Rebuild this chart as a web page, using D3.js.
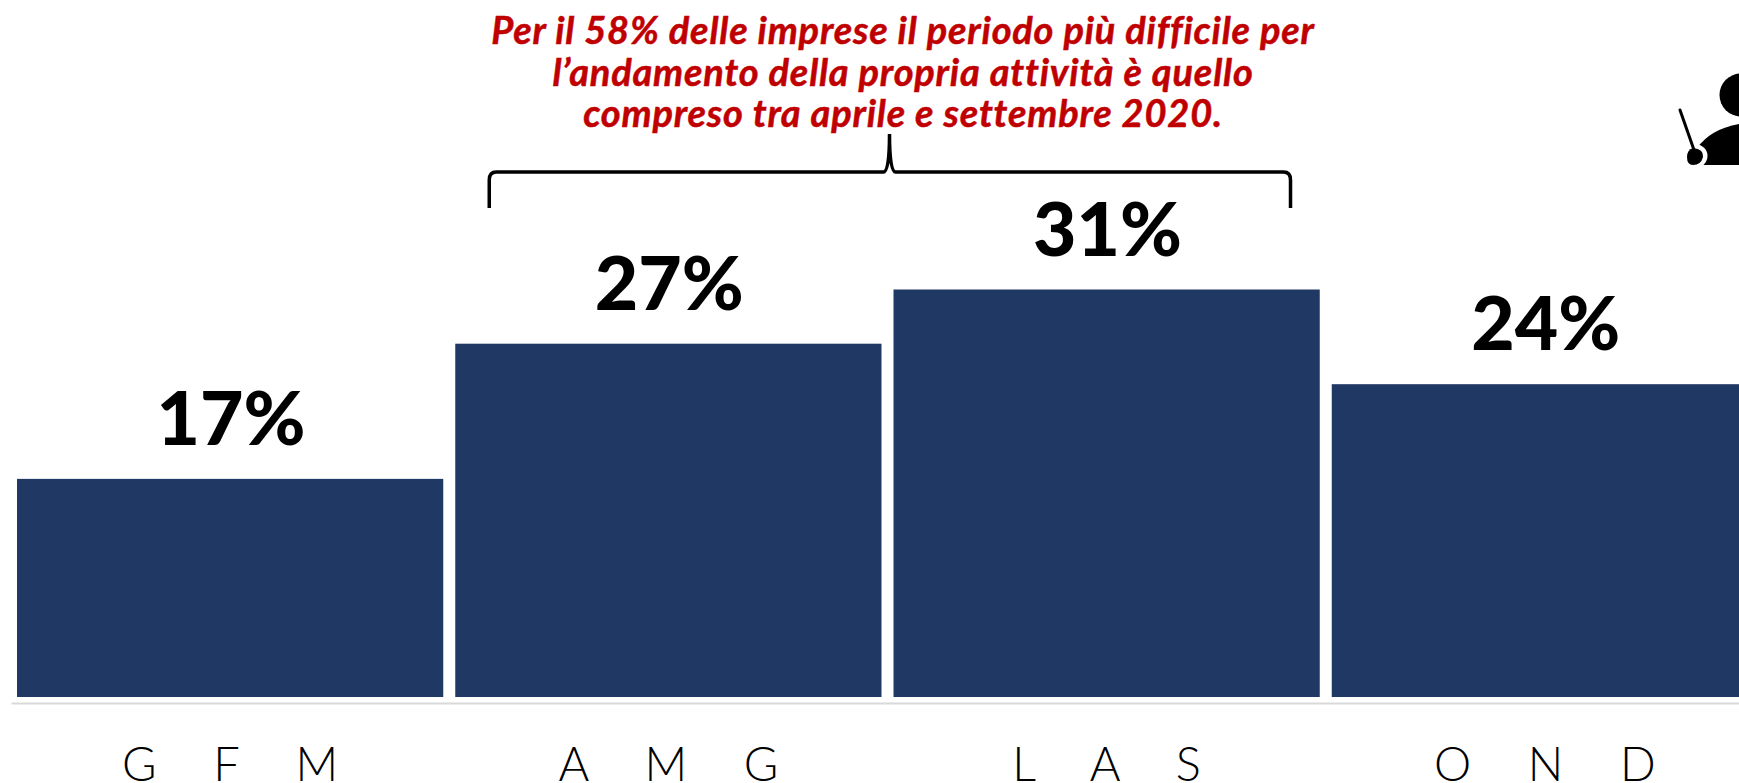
<!DOCTYPE html>
<html>
<head>
<meta charset="utf-8">
<script src="https://cdn.jsdelivr.net/npm/d3@7"></script>
<style>
  html, body { margin: 0; padding: 0; background: #fff; overflow: hidden; }
  svg { display: block; }
</style>
</head>
<body>
<svg></svg>
<script>
// Chart data
const categories = ["G F M", "A M G", "L A S", "O N D"];
const values = [16.7, 27.05, 31.2, 23.95];
const valueLabels = ["17%", "27%", "31%", "24%"];
const noteLines = [
    "Per il 58% delle imprese il periodo più difficile per",
    "l’andamento della propria attività è quello",
    "compreso tra aprile e settembre 2020."
];

const fullWidth = 1739, fullHeight = 783;
const FONT = "Lato, 'Open Sans', sans-serif";

const svg = d3.select("svg")
    .attr("width", fullWidth)
    .attr("height", fullHeight);

// Scales: the last bar runs off the right edge of the page
const x = d3.scaleBand()
    .domain(categories)
    .range([11, 1764])
    .paddingInner(0.0274)
    .paddingOuter(0.0137);

const y = d3.scaleLinear()
    .domain([0, 31.2])
    .range([697, 289.5]);

// Bars
svg.selectAll("rect.bar")
    .data(values)
    .join("rect")
    .attr("class", "bar")
    .attr("x", (d, i) => x(categories[i]))
    .attr("y", d => y(d))
    .attr("width", x.bandwidth())
    .attr("height", d => y(0) - y(d))
    .attr("fill", "#203864");

// Value labels
svg.selectAll("text.value")
    .data(values)
    .join("text")
    .attr("class", "value")
    .attr("x", (d, i) => x(categories[i]) + x.bandwidth() / 2 + 1)
    .attr("y", d => y(d) - 34)
    .attr("text-anchor", "middle")
    .style("font-family", FONT)
    .style("font-weight", 900)
    .style("font-size", "75px")
    .style("fill", "#000")
    .text((d, i) => valueLabels[i]);

// Category axis
const axis = svg.append("g")
    .attr("transform", "translate(0,703)")
    .call(d3.axisBottom(x).tickSize(0).tickSizeOuter(0));

axis.select(".domain")
    .attr("stroke", "#d9d9d9")
    .attr("stroke-width", 2);

axis.selectAll("text")
    .attr("y", 0)
    .attr("dy", 78)
    .attr("dx", 11)
    .style("font-family", FONT)
    .style("font-weight", 300)
    .style("font-size", "47px")
    .style("letter-spacing", "22px")
    .style("fill", "#000");

// Red note
svg.selectAll("text.note")
    .data(noteLines)
    .join("text")
    .attr("class", "note")
    .attr("x", 903)
    .attr("y", (d, i) => 44 + i * 41.5)
    .attr("text-anchor", "middle")
    .style("font-family", FONT)
    .style("font-weight", 700)
    .style("font-style", "italic")
    .style("font-size", "38px")
    .style("letter-spacing", "0.8px")
    .style("fill", "#c00000")
    .style("stroke", "#c00000")
    .style("stroke-width", 0.5)
    .text(d => d);

// Curly brace under the note
const braceX0 = x(categories[1]) + 34, braceX1 = x(categories[2]) + 397, braceTip = 889.5;
svg.append("path")
    .attr("d", `M${braceX0},208 L${braceX0},180 Q${braceX0},172 ${braceX0 + 7},172
                L${braceTip - 6},172 Q${braceTip},172 ${braceTip},134
                Q${braceTip},172 ${braceTip + 6},172 L${braceX1 - 7},172
                Q${braceX1},172 ${braceX1},180 L${braceX1},208`)
    .attr("fill", "none")
    .attr("stroke", "#000")
    .attr("stroke-width", 3.5);

// Presenter icon, cut by the page edge
const icon = svg.append("g");
icon.append("circle").attr("cx", 1741).attr("cy", 95).attr("r", 21.5).attr("fill", "#000");
icon.append("path")
    .attr("d", "M1697,148 Q1712,127 1745,123 L1745,165 L1700,165 Z")
    .attr("fill", "#000");
icon.append("circle").attr("cx", 1696).attr("cy", 156).attr("r", 11.5).attr("fill", "#fff");
icon.append("line")
    .attr("x1", 1680).attr("y1", 110).attr("x2", 1694).attr("y2", 150)
    .attr("stroke", "#000").attr("stroke-width", 3).attr("stroke-linecap", "round");
icon.append("path")
    .attr("d", "M1693,148 Q1704,149 1703,157 Q1701,165 1693,165 Q1687,165 1687,157 Q1687,150 1693,148 Z")
    .attr("fill", "#000");
</script>
</body>
</html>
